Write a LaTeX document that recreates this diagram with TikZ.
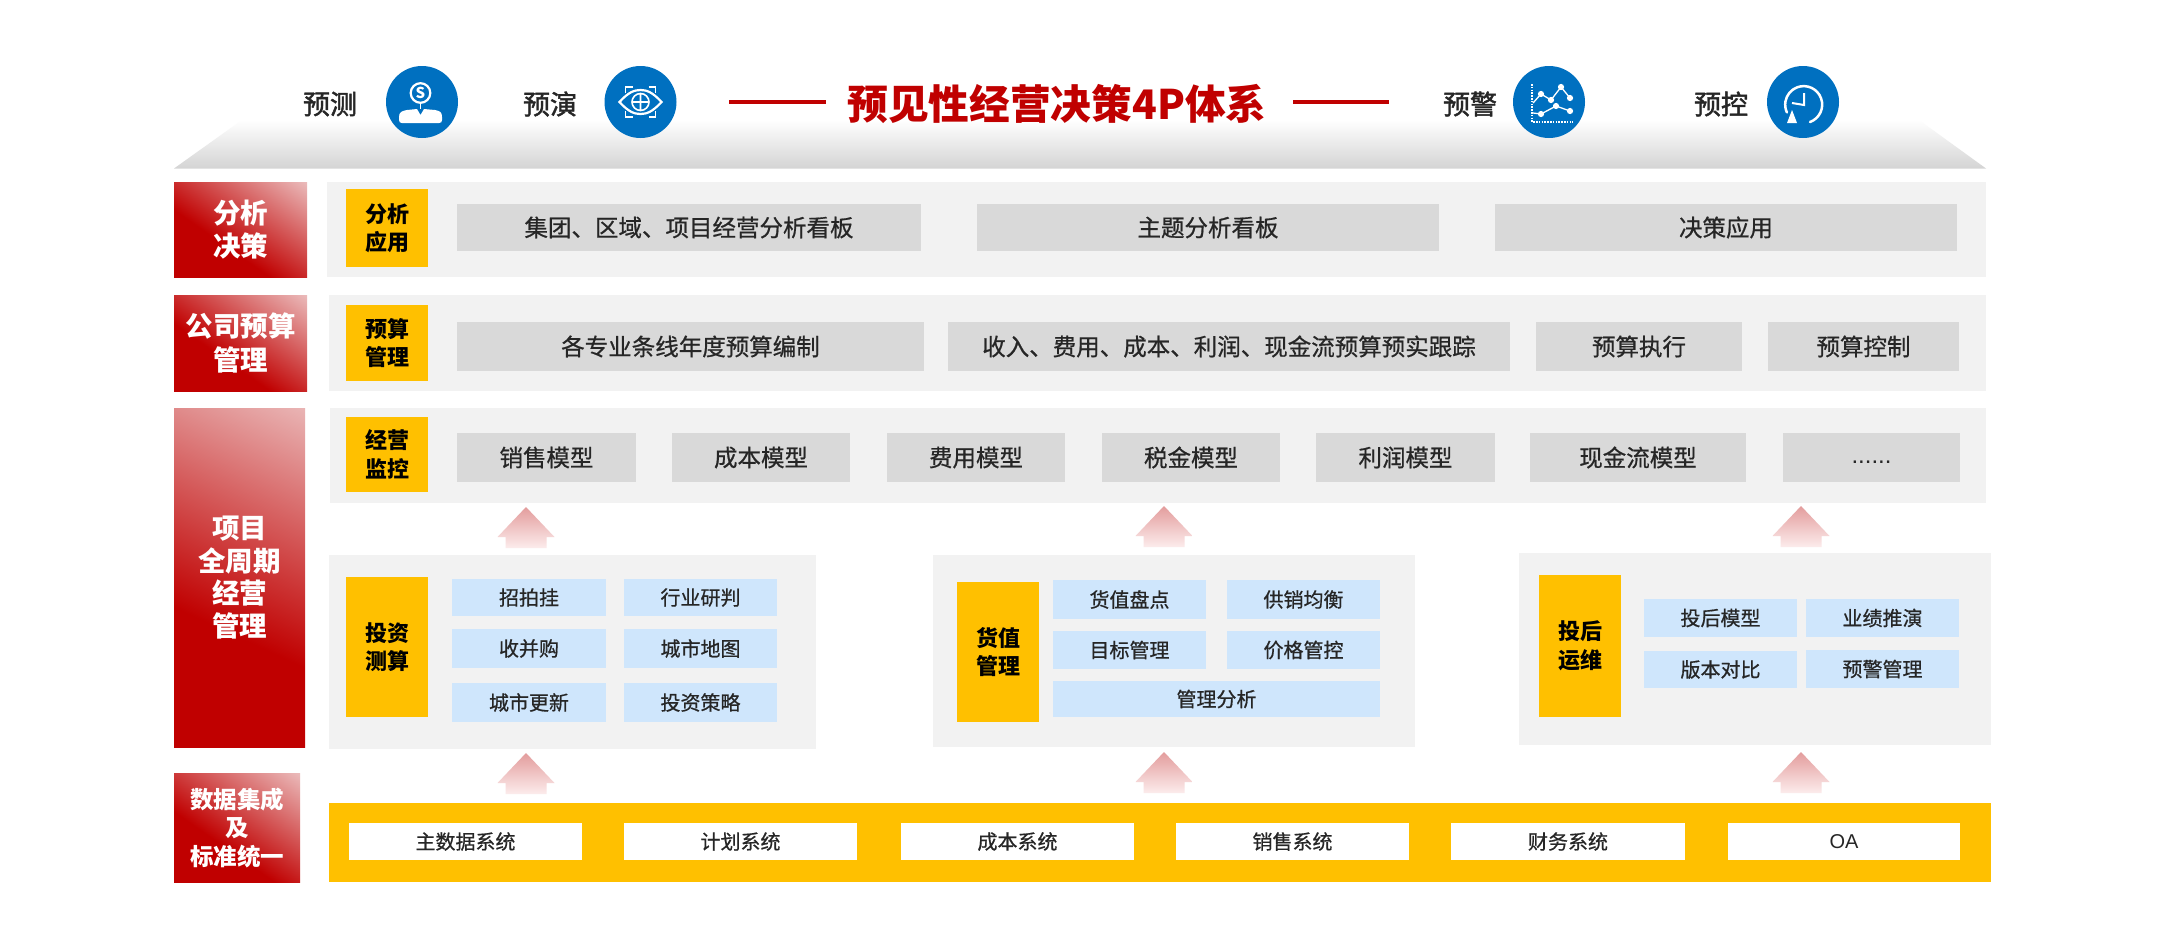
\documentclass[tikz,border=0pt]{standalone}
\usepackage{fontspec}
\setmainfont{Noto Sans CJK SC}
\newfontfamily\latinf{Liberation Sans}
\newfontfamily\medf[FakeBold=1.6]{Noto Sans CJK SC}
\newfontfamily\bodyf[FakeBold=0.7]{Noto Sans CJK SC}
\definecolor{rd}{HTML}{C00000}
\definecolor{rdl}{HTML}{EBBCBC}
\definecolor{yl}{HTML}{FFC000}
\definecolor{pn}{HTML}{F2F2F2}
\definecolor{gb}{HTML}{D9D9D9}
\definecolor{bl}{HTML}{CFE6FC}
\definecolor{cb}{HTML}{0070C0}
\definecolor{tx}{HTML}{262626}
\pgfdeclareverticalshading{redcorner}{100bp}{color(0bp)=(rd); color(40bp)=(rd); color(85bp)=(rdl); color(100bp)=(rdl)}
\tikzset{
  bx/.style={inner sep=0pt,outer sep=0pt,align=center},
  panel/.style={bx,fill=pn},
  redbox/.style={bx,shade,shading=redcorner,shading angle=-35,text=white,font=\fontsize{27.5}{33.5}\selectfont\bfseries},
  yellowbox/.style={bx,fill=yl,text=black,font=\fontsize{22}{28.5}\selectfont\bfseries},
  graybox/.style={bx,fill=gb,text=tx,font=\fontsize{23.5}{28}\selectfont\bodyf},
  bluebox/.style={bx,fill=bl,text=tx,font=\fontsize{20}{24}\selectfont\bodyf},
  whitebox/.style={bx,fill=white,text=tx,font=\fontsize{20}{24}\selectfont\bodyf},
  headlabel/.style={bx,text=tx,font=\fontsize{27}{30}\selectfont\medf},
  roundicon/.style={circle,fill=cb,inner sep=0pt,outer sep=0pt,minimum size=72pt},
  titleline/.style={rd,line width=4.5pt},
  icon/.style={white,line width=2.2pt}
}
\newcommand{\bxx}[7][]{\node[#2,#1,minimum width={(#5-#3)*1pt},minimum height={(#6-#4)*1pt}] (#7) at ({(#3+#5)/2},{(#4+#6)/2})}
\definecolor{arrowtop}{HTML}{E39C9C}
\definecolor{arrowbot}{HTML}{FCECEC}
\newcommand{\blockup}[2]{\shade[top color=arrowtop,bottom color=arrowbot] (#1,#2) -- (#1+28.5,#2+30) -- (#1+20.5,#2+30) -- (#1+20.5,#2+41) -- (#1-20.5,#2+41) -- (#1-20.5,#2+30) -- (#1-28.5,#2+30) -- cycle;}
\begin{document}
\begin{tikzpicture}[x=1pt,y=-1pt]
\useasboundingbox (0,0) rectangle (2160,948);
\fill[white] (0,0) rectangle (2160,948);
% header
\shade[top color=white,bottom color=black!17] (242,120) -- (1919,120) -- (1986,168.5) -- (174,168.5) -- cycle;
\node[headlabel] (l1) at (330,104) {预测};
\node[headlabel] (l2) at (550,104) {预演};
\node[headlabel] (l3) at (1470,104) {预警};
\node[headlabel] (l4) at (1721,104) {预控};
\node[roundicon] (c1) at (422,102) {};
\node[roundicon] (c2) at (640.5,102) {};
\node[roundicon] (c3) at (1549,102) {};
\node[roundicon] (c4) at (1803,102) {};
\coordinate (t1a) at (729,102); \coordinate (t1b) at (826,102);
\coordinate (t2a) at (1293,102); \coordinate (t2b) at (1389,102);
\draw[titleline] (t1a) -- (t1b);
\draw[titleline] (t2a) -- (t2b);
\node[bx,text=rd,font=\fontsize{40.7}{46}\selectfont\bfseries] (title) at (1057,103.5) {预见性经营决策4P体系};
% icon 1
\begin{scope}[shift={(c1.center)}]
  \draw[icon] (-1.5,-9) circle (9.8);
  \node[bx,text=white,font=\fontsize{15}{15}\selectfont\bfseries] (s1) at (-1.5,-9) {S};
  \fill[white] (-23,15) .. controls (-23,10) and (-20,9) .. (-15,8) -- (-5,7) -- (-1.5,13) -- (2,7) -- (13,8) .. controls (18,9) and (20,10) .. (20,15) -- (20,18) .. controls (20,20) and (19,21) .. (17,21) -- (-20,21) .. controls (-22,21) and (-23,20) .. (-23,18) -- cycle;
  \draw[white,line width=1.5pt] (-1.5,1) -- (-1.5,7);
\end{scope}
% icon 2
\begin{scope}[shift={(c2.center)}]
  \draw[icon] (-21,0) .. controls (-12,-10) and (-6,-12) .. (0,-12) .. controls (6,-12) and (12,-10) .. (21,0) .. controls (12,10) and (6,12) .. (0,12) .. controls (-6,12) and (-12,10) .. (-21,0) -- cycle;
  \draw[white,line width=1.6pt] (0,0) circle (8.5) (-8.5,0) -- (8.5,0) (0,-8.5) -- (0,8.5);
  \draw[white,line width=1.6pt] (-15,-9) -- (-15,-15) -- (-8,-15) (8,-15) -- (15,-15) -- (15,-9) (15,9) -- (15,15) -- (8,15) (-8,15) -- (-15,15) -- (-15,9);
\end{scope}
% icon 3
\begin{scope}[shift={(c3.center)}]
  \draw[white,line width=1.8pt,dash pattern=on 1.6pt off 1.2pt] (-17,-18) -- (-17,20) -- (24,20);
  \draw[white,line width=1.3pt] (-16,1) -- (-8,-8) -- (2,-2) -- (12,-15) -- (21,-4);
  \draw[white,line width=1.3pt] (-16,11) -- (-8,12) -- (7,4) -- (21,9);
  \foreach \p in {(-8,-8),(2,-2),(12,-15),(21,-4),(-8,12),(7,4),(21,9)} \fill[white] \p circle (3.1);
\end{scope}
% icon 4
\begin{scope}[shift={(c4.center)}]
  \draw[icon,line width=2.5pt,line cap=round] (7,20) arc[start angle=70,end angle=-205,radius=18.5];
  \draw[icon,line width=2pt] (1,-9) -- (1,3) -- (-11,1);
  \fill[white] (-16,21) -- (-6,21) -- (-11,8) -- cycle;
\end{scope}
% row 1
\bxx{panel}{327}{182}{1986}{277}{p1} {};
\bxx{redbox}{174}{182}{307}{277}{r1} {分析\\决策};
\bxx{yellowbox}{346}{189}{428}{267}{y1} {分析\\应用};
\bxx{graybox}{457}{204}{921}{251}{g11} {集团、区域、项目经营分析看板};
\bxx{graybox}{977}{204}{1439}{251}{g12} {主题分析看板};
\bxx{graybox}{1495}{204}{1957}{251}{g13} {决策应用};
% row 2
\bxx{panel}{329}{295}{1986}{391}{p2} {};
\bxx{redbox}{174}{295}{307}{391}{r2} {公司预算\\管理};
\bxx{yellowbox}{346}{305}{428}{381}{y2} {预算\\管理};
\bxx{graybox}{457}{322}{924}{371}{g21} {各专业条线年度预算编制};
\bxx{graybox}{948}{322}{1510}{371}{g22} {收入、费用、成本、利润、现金流预算预实跟踪};
\bxx{graybox}{1536}{322}{1742}{371}{g23} {预算执行};
\bxx{graybox}{1768}{322}{1959}{371}{g24} {预算控制};
% row 3
\bxx{panel}{330}{408}{1986}{503}{p3} {};
\bxx[shading angle=-25,font=\fontsize{27.5}{32.5}\selectfont\bfseries]{redbox}{174}{408}{305}{747}{r3} {项目\\全周期\\经营\\管理};
\bxx{yellowbox}{346}{417}{428}{492}{y3} {经营\\监控};
\bxx{graybox}{457}{433}{636}{482}{g31} {销售模型};
\bxx{graybox}{672}{433}{850}{482}{g32} {成本模型};
\bxx{graybox}{887}{433}{1065}{482}{g33} {费用模型};
\bxx{graybox}{1102}{433}{1280}{482}{g34} {税金模型};
\bxx{graybox}{1316}{433}{1495}{482}{g35} {利润模型};
\bxx{graybox}{1530}{433}{1746}{482}{g36} {现金流模型};
\bxx[font=\fontsize{24}{28}\selectfont\latinf]{graybox}{1783}{433}{1960}{482}{g37} {\vphantom{Hg}......};
% invest
\bxx{panel}{329}{555}{816}{749}{p4} {};
\bxx{yellowbox}{346}{577}{428}{717}{y4} {投资\\测算};
\bxx{bluebox}{452}{579}{606}{616}{b41} {招拍挂};
\bxx{bluebox}{624}{579}{777}{616}{b42} {行业研判};
\bxx{bluebox}{452}{629}{606}{668}{b43} {收并购};
\bxx{bluebox}{624}{629}{777}{668}{b44} {城市地图};
\bxx{bluebox}{452}{683}{606}{722}{b45} {城市更新};
\bxx{bluebox}{624}{683}{777}{722}{b46} {投资策略};
% value
\bxx{panel}{933}{555}{1415}{747}{p5} {};
\bxx{yellowbox}{957}{582}{1039}{722}{y5} {货值\\管理};
\bxx{bluebox}{1053}{580}{1206}{619}{b51} {货值盘点};
\bxx{bluebox}{1227}{580}{1380}{619}{b52} {供销均衡};
\bxx{bluebox}{1053}{631}{1206}{669}{b53} {目标管理};
\bxx{bluebox}{1227}{631}{1380}{669}{b54} {价格管控};
\bxx{bluebox}{1053}{681}{1380}{717}{b55} {管理分析};
% post
\bxx{panel}{1519}{553}{1991}{745}{p6} {};
\bxx{yellowbox}{1539}{575}{1621}{717}{y6} {投后\\运维};
\bxx{bluebox}{1644}{599}{1797}{637}{b61} {投后模型};
\bxx{bluebox}{1806}{599}{1959}{637}{b62} {业绩推演};
\bxx{bluebox}{1644}{651}{1797}{688}{b63} {版本对比};
\bxx{bluebox}{1806}{650}{1959}{688}{b64} {预警管理};
% arrows
\blockup{526}{507}\blockup{1164}{506}\blockup{1801}{506}
\blockup{526}{753}\blockup{1164}{752}\blockup{1801}{752}
% bottom
\bxx[font=\fontsize{23.5}{28.5}\selectfont\bfseries]{redbox}{174}{773}{300}{882}{r4} {数据集成\\及\\标准统一};
\bxx{bx,fill=yl}{329}{803}{1991}{882}{band} {};
\bxx{whitebox}{349}{823}{582}{860}{w1} {主数据系统};
\bxx{whitebox}{624}{823}{857}{860}{w2} {计划系统};
\bxx{whitebox}{901}{823}{1134}{860}{w3} {成本系统};
\bxx{whitebox}{1176}{823}{1409}{860}{w4} {销售系统};
\bxx{whitebox}{1451}{823}{1685}{860}{w5} {财务系统};
\bxx[font=\fontsize{20}{24}\selectfont\latinf]{whitebox}{1728}{823}{1960}{860}{w6} {OA};
\end{tikzpicture}
\end{document}
